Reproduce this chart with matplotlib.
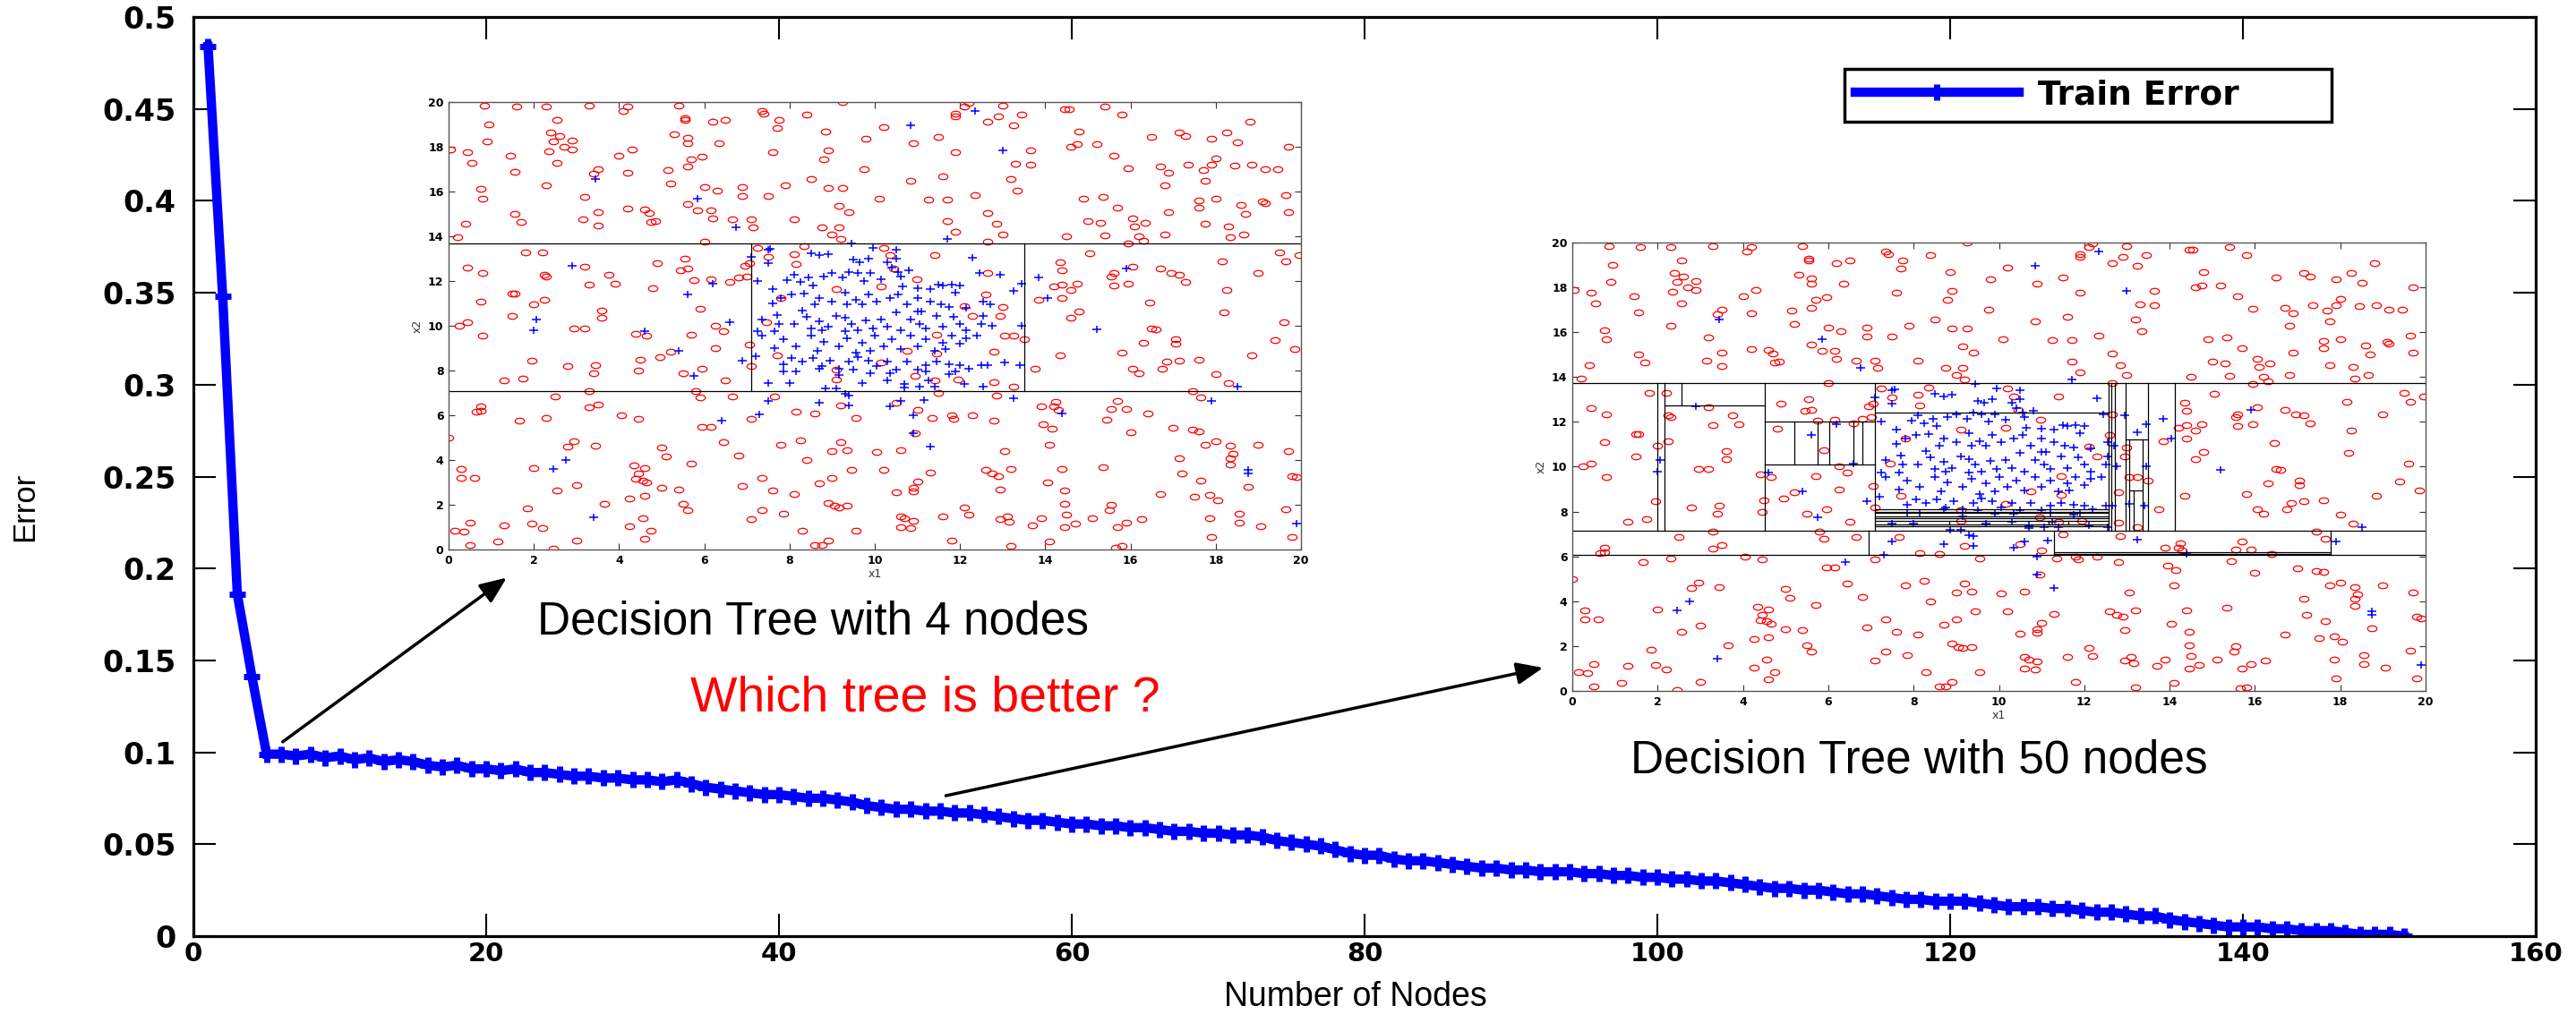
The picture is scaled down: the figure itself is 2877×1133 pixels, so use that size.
import numpy as np
import matplotlib
matplotlib.use('Agg')
import matplotlib.pyplot as plt
from matplotlib.path import Path
from matplotlib.transforms import Affine2D

# ---- datos de la curva principal ----
nodes = list(range(1, 152))
train_error = [
    0.484, 0.348, 0.186, 0.141, 0.099,
    0.099, 0.098, 0.099, 0.097, 0.098,
    0.096, 0.097, 0.095, 0.096, 0.095,
    0.093, 0.092, 0.093, 0.091, 0.091,
    0.090, 0.091, 0.089, 0.089, 0.088,
    0.087, 0.087, 0.086, 0.086, 0.085,
    0.085, 0.084, 0.085, 0.083, 0.081,
    0.080, 0.079, 0.078, 0.077, 0.077,
    0.076, 0.075, 0.075, 0.074, 0.073,
    0.071, 0.070, 0.069, 0.069, 0.068,
    0.068, 0.067, 0.067, 0.066, 0.065,
    0.064, 0.063, 0.063, 0.062, 0.061,
    0.061, 0.060, 0.060, 0.059, 0.059,
    0.058, 0.057, 0.057, 0.056, 0.056,
    0.055, 0.055, 0.054, 0.052, 0.051,
    0.050, 0.049, 0.047, 0.045, 0.044,
    0.044, 0.042, 0.041, 0.041, 0.040,
    0.039, 0.038, 0.037, 0.037, 0.036,
    0.036, 0.035, 0.035, 0.035, 0.034,
    0.034, 0.033, 0.033, 0.032, 0.032,
    0.031, 0.031, 0.030, 0.030, 0.029,
    0.028, 0.027, 0.026, 0.026, 0.025,
    0.025, 0.024, 0.023, 0.023, 0.022,
    0.021, 0.020, 0.020, 0.019, 0.019,
    0.019, 0.018, 0.017, 0.016, 0.016,
    0.016, 0.015, 0.015, 0.014, 0.013,
    0.013, 0.012, 0.011, 0.011, 0.009,
    0.008, 0.007, 0.006, 0.005, 0.005,
    0.005, 0.004, 0.004, 0.003, 0.003,
    0.003, 0.002, 0.001, 0.001, 0.001,
    0.000,
]
y_ticks = [0, 0.05, 0.1, 0.15, 0.2, 0.25, 0.3, 0.35, 0.4, 0.45, 0.5]
y_tick_labels = ['0', '0.05', '0.1', '0.15', '0.2', '0.25', '0.3', '0.35', '0.4', '0.45', '0.5']
x_ticks = [0, 20, 40, 60, 80, 100, 120, 140, 160]

# ---- datos de los graficos pequenos (x1, x2) ----
red_pts = [
    (0.85, 19.85), (1.6, 19.8), (2.3, 19.8), (3.3, 19.85), (4.2, 19.8), (4.1, 19.6), (5.4, 19.85),
    (0.95, 19.0), (2.55, 19.2), (0.9, 18.25), (0.05, 17.9), (0.45, 17.75), (0.55, 17.3), (1.45, 17.6),
    (1.55, 16.9), (2.4, 18.65), (2.6, 18.5), (2.45, 18.25), (2.9, 18.3), (2.7, 18.0), (2.9, 17.9),
    (2.35, 17.8), (2.55, 17.3), (2.3, 16.3), (0.75, 16.1), (0.8, 15.7), (1.55, 15.0), (1.7, 14.65),
    (0.4, 14.55), (0.2, 13.95), (3.2, 15.75), (3.15, 14.75), (3.5, 15.1), (3.5, 14.5), (3.4, 16.8),
    (3.5, 17.0), (4.0, 17.6), (4.3, 17.9), (4.2, 16.85), (4.2, 15.25), (4.6, 15.2), (4.7, 15.05),
    (4.75, 14.65), (4.85, 14.7), (5.15, 16.95), (5.2, 16.35), (5.3, 18.55), (5.55, 19.3), (5.55, 19.2),
    (5.6, 18.4), (5.6, 18.15), (5.7, 17.45), (5.95, 17.55), (5.6, 17.1), (5.6, 15.45), (5.85, 15.15),
    (6.0, 16.2), (6.3, 16.05), (6.15, 15.15), (6.2, 14.8), (6.2, 19.1), (6.5, 19.2), (6.35, 18.15),
    (6.65, 14.75), (6.9, 16.2), (6.9, 15.8), (7.1, 14.75), (7.15, 14.4), (7.35, 19.6), (7.4, 19.5),
    (7.75, 19.2), (7.7, 18.85), (7.6, 17.75), (7.5, 15.8), (8.1, 14.75), (7.9, 16.3), (8.4, 19.45),
    (8.5, 16.55), (9.25, 20.0), (8.85, 18.7), (8.9, 17.85), (8.8, 17.45), (8.9, 16.15), (9.25, 16.15),
    (9.15, 15.35), (9.4, 15.1), (8.75, 14.4), (9.15, 14.4), (9.0, 14.1), (9.2, 13.9), (9.8, 18.35),
    (9.75, 17.0), (10.1, 15.7), (10.2, 18.9), (10.85, 16.5), (10.9, 18.15), (11.25, 15.65), (11.5, 18.45),
    (11.6, 16.7), (11.7, 15.65), (11.7, 14.7), (11.9, 14.2), (11.9, 19.5), (11.9, 19.35), (12.1, 19.8),
    (12.2, 19.95), (11.9, 17.75), (12.35, 15.85), (12.65, 19.1), (12.9, 19.35), (13.0, 19.85), (13.25, 18.95),
    (13.45, 19.45), (12.65, 15.05), (12.85, 14.55), (13.0, 14.1), (12.65, 13.75), (13.2, 16.55), (13.35, 16.05),
    (13.3, 17.25), (13.65, 17.2), (13.65, 17.85), (14.45, 19.7), (14.55, 19.7), (14.8, 18.7), (14.6, 18.0),
    (14.75, 18.1), (15.2, 18.1), (15.4, 19.8), (15.8, 19.45), (15.6, 17.6), (15.95, 17.05), (14.9, 15.7),
    (15.35, 15.75), (15.7, 15.3), (15.0, 14.7), (15.3, 14.6), (15.4, 14.05), (14.5, 14.0), (16.05, 14.8),
    (16.1, 14.45), (16.35, 14.6), (16.2, 14.0), (16.3, 13.8), (15.95, 13.7), (16.5, 18.45), (16.7, 17.1),
    (16.9, 16.85), (16.8, 16.3), (16.9, 15.1), (16.8, 14.1), (17.15, 18.65), (17.3, 18.5), (17.35, 17.2),
    (17.7, 16.95), (17.75, 16.5), (17.6, 15.6), (17.6, 15.3), (17.75, 14.55), (17.9, 18.35), (18.0, 17.5),
    (17.9, 17.2), (18.25, 18.65), (18.5, 18.2), (18.45, 17.15), (18.0, 15.7), (18.3, 14.45), (18.35, 13.95),
    (18.65, 14.1), (18.6, 15.4), (18.7, 15.0), (18.8, 19.1), (18.85, 17.2), (19.15, 17.0), (19.45, 17.0),
    (19.1, 15.55), (19.15, 15.5), (19.7, 18.0), (19.65, 15.85), (19.7, 15.1),
    # franja central
    (0.45, 12.6), (0.8, 12.35), (0.75, 11.1), (0.25, 10.0), (0.45, 10.15), (0.8, 9.55), (1.5, 11.45),
    (1.55, 11.45), (1.5, 10.45), (1.8, 13.3), (2.2, 13.3), (2.25, 12.3), (2.3, 12.2), (2.0, 10.95),
    (2.25, 11.15), (1.95, 8.45), (1.3, 7.55), (1.75, 7.65), (2.8, 8.2), (3.2, 12.65), (3.3, 11.85),
    (2.95, 9.9), (3.2, 9.9), (3.6, 10.7), (3.6, 10.35), (3.75, 12.3), (3.9, 11.9), (3.45, 8.25),
    (3.4, 7.9), (4.4, 9.65), (4.65, 9.55), (4.5, 8.5), (4.45, 8.0), (4.8, 11.7), (4.9, 12.8),
    (4.95, 8.6), (5.2, 8.85), (5.5, 7.9), (5.55, 13.0), (5.6, 12.55), (5.45, 12.5), (5.75, 12.05),
    (5.9, 10.75), (5.7, 9.6), (5.95, 8.1), (6.0, 13.75), (6.15, 12.1), (6.25, 10.0), (6.45, 9.75),
    (6.25, 9.0), (6.6, 11.95), (6.5, 7.55), (6.8, 12.15), (6.95, 12.7), (7.05, 12.8), (7.0, 12.2),
    (7.05, 9.15), (7.1, 8.2),
    (7.25, 13.5), (7.5, 13.1), (8.1, 13.2), (8.15, 12.75), (8.35, 13.55), (10.2, 13.5), (10.35, 13.15),
    (10.45, 12.55), (10.15, 11.75), (9.1, 11.65), (7.8, 11.25), (7.45, 10.15), (7.7, 8.7), (9.1, 8.05),
    (9.1, 7.6), (10.15, 8.35), (10.75, 8.9), (10.95, 7.75), (11.4, 7.55), (11.45, 8.75), (11.45, 9.6),
    (12.1, 10.9), (12.3, 10.45), (12.6, 11.4), (12.65, 12.35), (13.0, 10.85), (12.95, 10.45), (13.05, 9.55),
    (13.25, 9.55), (12.8, 8.85), (12.8, 7.5), (13.25, 7.3), (13.5, 9.4), (11.4, 13.15), (11.95, 7.6),
    (10.98, 12.1),
    (13.75, 8.1), (13.85, 11.15), (14.2, 11.75), (14.35, 12.85), (14.4, 12.5), (14.4, 11.85), (14.4, 11.25),
    (14.75, 11.9), (14.6, 11.6), (14.6, 10.35), (14.8, 10.65), (14.35, 8.7), (15.05, 13.25), (15.55, 12.2),
    (15.6, 12.35), (15.6, 11.8), (15.95, 11.9), (16.05, 12.65), (15.8, 8.8), (16.05, 8.1), (16.2, 7.9),
    (16.3, 9.25), (16.45, 11.05), (16.5, 9.9), (16.6, 9.85), (16.7, 12.55), (16.95, 12.35), (17.15, 12.3),
    (17.3, 11.95), (17.05, 9.4), (17.05, 9.2), (16.85, 8.4), (17.15, 8.45), (16.75, 8.1), (17.6, 8.5),
    (17.45, 7.1), (17.65, 6.8), (18.15, 12.9), (18.25, 11.6), (18.2, 10.6), (18.0, 7.85), (18.3, 7.45),
    (19.0, 12.35), (19.5, 13.3), (19.65, 12.9), (19.95, 13.15), (19.6, 10.15), (19.4, 9.35), (19.85, 8.95),
    (18.85, 8.7),
    # franja inferior
    (0.0, 5.0), (0.3, 3.6), (0.3, 3.2), (0.6, 3.2), (0.75, 6.4), (0.65, 6.15), (0.75, 6.2),
    (0.15, 0.85), (0.35, 0.8), (0.5, 1.2), (0.5, 0.2), (1.15, 0.35), (1.3, 1.1), (1.65, 5.75),
    (1.85, 1.85), (1.95, 1.15), (2.2, 0.95), (2.0, 3.65), (2.3, 5.9), (2.5, 6.85), (2.55, 2.65),
    (2.45, 0.05), (2.8, 4.6), (2.95, 4.85), (3.0, 2.9), (3.0, 0.4), (3.3, 6.35), (3.3, 7.1),
    (3.5, 6.5), (3.45, 4.65), (3.65, 2.05), (4.05, 6.0), (4.45, 5.85), (4.25, 2.3), (4.25, 1.05),
    (4.35, 3.75), (4.4, 3.15), (4.45, 3.4), (4.55, 3.1), (4.6, 3.65), (4.65, 3.0), (4.6, 2.4),
    (4.55, 1.4), (4.6, 0.5), (4.75, 0.85), (5.0, 4.55), (5.1, 4.15), (5.0, 2.75), (5.4, 2.7),
    (5.5, 2.05), (5.6, 1.75), (5.7, 3.85), (5.95, 5.5), (6.15, 5.5), (5.8, 7.1), (5.9, 6.8),
    (6.45, 4.8), (6.65, 6.85), (6.8, 4.2), (6.9, 2.85), (7.1, 5.85), (7.1, 1.35), (7.35, 3.2),
    (7.35, 1.75), (7.6, 2.65), (7.65, 6.85), (7.8, 4.7), (7.85, 1.6), (8.1, 2.5), (8.15, 6.15),
    (8.3, 0.85), (8.25, 4.9), (8.4, 4.0), (8.6, 6.1), (8.6, 0.2), (8.7, 2.95), (8.75, 0.2),
    (8.9, 0.4), (8.9, 2.1), (9.0, 3.2), (9.0, 4.4), (9.05, 1.95), (9.15, 1.9), (9.2, 4.8),
    (9.2, 6.45), (9.35, 4.45), (9.45, 3.55), (9.35, 1.95), (9.55, 5.9), (9.55, 0.85), (10.05, 4.35),
    (10.2, 3.55), (10.5, 6.55), (10.6, 4.45), (10.5, 2.55), (10.6, 1.5), (10.7, 1.4), (10.6, 1.0),
    (10.85, 0.95), (10.9, 1.3), (10.9, 2.75), (10.9, 2.6), (11.0, 6.25), (11.0, 3.05), (10.95, 5.2),
    (11.35, 5.9), (11.3, 3.45), (11.5, 7.0), (11.6, 1.5), (11.8, 6.0), (11.85, 5.85), (11.8, 0.4),
    (12.1, 1.9), (12.2, 1.55), (12.3, 6.0), (12.6, 3.55), (12.75, 3.4), (12.9, 3.3), (12.8, 5.75),
    (12.85, 6.9), (12.95, 2.7), (13.05, 4.4), (12.95, 1.35), (13.1, 1.5), (13.15, 1.25), (13.2, 3.6),
    (13.2, 0.15), (13.7, 1.1), (13.9, 1.4), (13.95, 5.6), (13.9, 6.4), (14.05, 3.0), (14.1, 4.7),
    (14.15, 5.4), (14.1, 0.35), (14.25, 6.6), (14.2, 6.4), (14.3, 6.25), (14.4, 3.6), (14.45, 2.65),
    (14.45, 2.05), (14.5, 1.55), (14.45, 1.0), (14.7, 1.15), (15.1, 1.4), (15.35, 3.7), (15.45, 5.8),
    (15.55, 6.3), (15.7, 6.65), (15.9, 6.3), (16.0, 5.25), (15.55, 2.0), (15.5, 1.75), (15.7, 1.0),
    (15.9, 1.2), (15.65, 0.1), (15.8, 0.15), (16.25, 1.35), (16.4, 6.1), (16.7, 2.5), (17.0, 5.45),
    (17.15, 4.1), (17.2, 3.4), (17.45, 5.35), (17.6, 5.3), (17.5, 2.35), (17.65, 3.1), (17.75, 4.7),
    (18.0, 4.85), (17.85, 2.45), (17.85, 1.4), (18.05, 2.2), (17.9, 0.55), (18.35, 4.65), (18.4, 4.3),
    (18.35, 4.1), (18.35, 3.8), (18.55, 1.6), (18.55, 1.2), (18.75, 2.8), (19.0, 4.7), (19.05, 1.05),
    (19.65, 1.8), (19.7, 4.4), (19.8, 3.3), (19.9, 3.25), (19.8, 0.55),
]

blue_pts = [
    (3.45, 16.55), (5.85, 15.7), (6.75, 14.4), (10.85, 18.95), (12.35, 19.6), (13.0, 17.85), (11.7, 13.9),
    (2.9, 12.7), (2.05, 10.3), (2.0, 9.8), (4.6, 9.75), (5.4, 8.9), (5.6, 11.4), (6.2, 11.9),
    (6.6, 10.15), (5.75, 7.75), (6.9, 8.45), (6.4, 5.75), (7.3, 6.05), (7.5, 6.65), (8.7, 6.55),
    (9.4, 6.45), (10.35, 6.4), (10.6, 6.65), (11.15, 6.7), (10.9, 6.0), (10.9, 5.2), (11.3, 4.6),
    (13.25, 6.75), (14.4, 6.1), (17.9, 6.65), (18.5, 7.3), (15.2, 9.85), (13.85, 12.15), (14.05, 11.25),
    (15.9, 12.55), (13.25, 11.55), (13.45, 11.9), (13.45, 10.0), (13.4, 8.25), (13.05, 8.35), (12.95, 12.3),
    (12.45, 12.35), (12.3, 13.05), (2.45, 3.6), (2.75, 4.0), (3.4, 1.45), (18.75, 3.55), (18.75, 3.4),
    (19.9, 1.15), (12.1, 7.4), (12.55, 7.3), (11.75, 7.85),
    # nube central
    (7.55, 13.45), (7.5, 13.4), (8.5, 13.25), (8.7, 13.15), (8.9, 13.2), (9.45, 13.7), (9.95, 13.5),
    (10.5, 13.4), (10.5, 13.0), (7.1, 13.1), (9.5, 12.95), (9.65, 12.85), (9.85, 13.0), (10.3, 12.85),
    (10.4, 12.6), (10.8, 12.5), (7.5, 12.8),
    (7.25, 12.0), (7.6, 11.65), (7.95, 12.05), (8.1, 12.3), (8.25, 11.95), (8.45, 12.15), (8.55, 11.8),
    (8.8, 12.2), (9.0, 12.35), (9.25, 12.15), (9.4, 12.4), (9.6, 12.35), (9.75, 12.0), (9.9, 12.35),
    (10.15, 12.1), (10.55, 12.4), (10.6, 12.2), (10.65, 11.75), (11.0, 11.7), (11.3, 11.65), (11.5, 11.85),
    (11.6, 11.8), (11.8, 11.85), (12.0, 11.8),
    (7.6, 11.0), (7.8, 11.25), (8.05, 11.4), (8.35, 11.45), (8.3, 10.7), (8.6, 10.95), (8.7, 11.25),
    (9.0, 11.1), (9.3, 11.5), (9.35, 10.95), (9.55, 11.15), (9.7, 10.95), (9.85, 11.4), (10.05, 11.1),
    (10.35, 11.25), (10.55, 11.4), (10.75, 10.95), (11.0, 11.25), (11.1, 10.65), (11.3, 11.1), (11.55, 10.95),
    (11.75, 10.85), (11.9, 11.5), (12.15, 10.8), (12.55, 11.1), (12.7, 10.95), (11.0, 10.65),
    (7.7, 10.5), (7.75, 10.1), (7.35, 10.3), (8.1, 10.1), (8.4, 10.4), (8.7, 10.2), (8.9, 9.95),
    (9.1, 10.45), (9.3, 10.35), (9.45, 10.1), (9.6, 9.8), (9.8, 10.25), (9.95, 9.9), (10.15, 10.3),
    (10.3, 9.95), (10.5, 10.6), (10.6, 9.8), (10.85, 10.3), (11.05, 10.1), (11.2, 9.9), (11.45, 10.45),
    (11.6, 9.95), (11.85, 10.4), (12.0, 10.1), (12.15, 9.8), (12.5, 10.1), (12.75, 10.0), (12.55, 10.45),
    (7.25, 9.75), (7.65, 9.75), (8.5, 9.9), (8.75, 9.8), (9.3, 9.75),
    (7.35, 9.55), (7.85, 9.4), (8.15, 9.1), (8.5, 9.55), (8.65, 8.9), (8.8, 9.3), (9.15, 9.1),
    (9.35, 9.45), (9.55, 8.8), (9.7, 9.25), (9.9, 8.9), (10.0, 9.55), (10.2, 9.1), (10.4, 9.4),
    (10.6, 8.95), (10.85, 9.55), (11.0, 9.1), (11.2, 9.4), (11.4, 8.9), (11.6, 9.25), (11.8, 9.55),
    (12.0, 9.2), (12.15, 9.45), (12.4, 9.55), (11.65, 8.95), (7.2, 8.65), (7.65, 9.0),
    (7.85, 8.3), (8.05, 8.55), (8.3, 8.4), (8.55, 8.55), (8.75, 8.2), (8.95, 8.45), (9.15, 8.1),
    (9.4, 8.4), (9.6, 8.6), (9.85, 8.45), (10.05, 8.2), (10.3, 8.4), (10.5, 8.05), (10.75, 8.4),
    (11.0, 8.05), (11.2, 8.25), (11.45, 8.4), (11.75, 8.3), (11.9, 7.95), (12.2, 8.1), (12.5, 8.25),
    (7.85, 7.95), (8.15, 7.95), (8.7, 8.1), (9.15, 7.8), (9.5, 8.05), (9.9, 7.9), (10.35, 7.9),
    (11.2, 7.95), (12.0, 8.25), (12.65, 8.25),
    (7.5, 7.45), (8.0, 7.45), (8.85, 7.2), (9.1, 7.2), (9.3, 6.95), (9.4, 6.9), (9.7, 7.45),
    (10.3, 7.55), (10.7, 7.25), (11.05, 7.3), (11.25, 7.55), (10.7, 7.4), (11.4, 7.3),
]

# cortes del arbol: (x0, x1, y0, y1)
splits_4 = [
    (0, 20, 13.7, 13.7), (0, 20, 7.1, 7.1),
    (7.1, 7.1, 7.1, 13.7), (13.5, 13.5, 7.1, 13.7),
]
splits_50 = [
    (0, 20, 13.72, 13.72), (0, 20, 7.13, 7.13), (0, 20, 6.06, 6.06),
    (1.99, 1.99, 7.13, 13.72), (2.155, 2.155, 7.13, 13.72),
    (2.155, 4.51, 12.72, 12.72), (2.55, 2.55, 12.72, 13.72),
    (4.51, 4.51, 7.13, 13.72),
    (4.51, 7.1, 12.03, 12.03), (4.51, 7.1, 10.1, 10.1),
    (5.21, 5.21, 10.1, 12.03), (5.74, 5.74, 10.1, 12.03), (6.03, 6.03, 10.1, 12.03),
    (6.58, 6.58, 10.1, 12.03), (6.81, 6.81, 10.1, 12.03),
    (7.1, 7.1, 7.13, 13.72), (7.1, 12.57, 12.43, 12.43),
    (7.1, 12.57, 8.09, 8.09), (7.1, 12.57, 8.0, 8.0), (7.1, 12.57, 7.93, 7.93),
    (7.1, 12.57, 7.8, 7.8), (7.1, 12.57, 7.7, 7.7), (7.1, 12.57, 7.57, 7.57),
    (7.1, 12.57, 7.44, 7.44), (7.1, 12.57, 7.33, 7.33),
    (8.84, 8.84, 7.44, 7.57), (11.17, 11.17, 7.44, 7.57), (11.63, 11.63, 7.44, 7.57),
    (12.57, 12.57, 7.13, 13.72), (12.64, 12.64, 7.13, 13.72), (12.71, 12.71, 7.13, 13.72),
    (12.97, 12.97, 7.13, 13.72), (12.97, 13.49, 11.23, 11.23),
    (13.05, 13.05, 7.13, 11.23), (13.36, 13.36, 7.13, 11.23), (13.05, 13.36, 8.95, 8.95),
    (13.16, 13.16, 7.13, 8.95),
    (13.49, 13.49, 7.13, 13.72), (14.12, 14.12, 7.13, 13.72),
    (6.94, 6.94, 6.06, 7.13), (11.3, 11.3, 6.06, 7.13),
    (11.3, 17.77, 6.2, 6.2), (11.3, 17.77, 6.12, 6.12), (17.77, 17.77, 6.06, 7.13),
]

# ---- figura ----
W, H = 2877, 1133
fig = plt.figure(figsize=(W / 100, H / 100), dpi=100)
fig.patch.set_facecolor('white')

ax = fig.add_axes([216 / W, 1 - 1046 / H, 2616 / W, 1027 / H])
ax.plot(nodes, train_error, color='#0000ff', lw=7.5, marker='+', ms=13, mew=5,
        label='Train Error', solid_joinstyle='miter')
ax.set_xlim(0, 160)
ax.set_ylim(0, 0.5)
ax.set_xticks(x_ticks)
ax.set_yticks(y_ticks)
ax.set_yticklabels(y_tick_labels)
ax.tick_params(direction='in', top=True, right=True, length=18, width=1.5,
               labelsize=24)
ax.tick_params(axis='y', pad=14)
ax.tick_params(axis='x', pad=4, labelsize=21)
for lbl in ax.get_xticklabels() + ax.get_yticklabels():
    lbl.set_fontweight('bold')
for sp in ax.spines.values():
    sp.set_linewidth(2.3)

# etiquetas de los ejes
fig.text(1514 / W, 1 / H, 'Number of Nodes', fontsize=27, family='Liberation Sans',
         ha='center', va='bottom')
fig.text(28 / W, 1 - 566 / H, 'Error', rotation=90, fontsize=25,
         family='Liberation Sans', ha='center', va='center')

# leyenda con el ancho del recuadro original
leg = ax.legend(loc='upper left', bbox_to_anchor=(0.705, 0.884, 0.208, 0.0595),
                mode='expand', borderaxespad=0, fancybox=False,
                edgecolor='black', framealpha=1, borderpad=0.3, handlelength=4.9,
                handletextpad=0.55, prop=dict(weight='bold', size=27))
leg.get_frame().set_linewidth(2.5)

# textos y flechas
ax.text(42.3, 0.171, 'Decision Tree with 4 nodes', fontsize=37, family='Liberation Sans',
        ha='center', va='center')
ax.text(117.9, 0.0954, 'Decision Tree with 50 nodes', fontsize=37, family='Liberation Sans',
        ha='center', va='center')
ax.text(50.0, 0.1295, 'Which tree is better ?', fontsize=40, family='Liberation Sans',
        color='#ff0000', ha='center', va='center')
arrow_style = dict(arrowstyle='-|>,head_length=0.6,head_width=0.25', lw=2.5,
                   color='black', mutation_scale=30, shrinkA=0, shrinkB=0)
ax.annotate('', xy=(21.4, 0.195), xytext=(6.1, 0.1057), arrowprops=arrow_style,
            annotation_clip=False)
ax.annotate('', xy=(92.2, 0.146), xytext=(51.4, 0.0764), arrowprops=arrow_style,
            annotation_clip=False)

# marcadores elipticos (la imagen original esta estirada)
ell = Path.unit_circle().transformed(Affine2D().scale(1.0, 0.62))
plus = Path([(-1, 0), (1, 0), (0, -0.85), (0, 0.85)],
            [Path.MOVETO, Path.LINETO, Path.MOVETO, Path.LINETO])

red = np.array(red_pts)
blue = np.array(blue_pts)


def draw_inset(rect, splits):
    ins = fig.add_axes(rect)
    ins.set_facecolor('white')
    ins.plot(red[:, 0], red[:, 1], ls='none', marker=ell, ms=7.5, mfc='none',
             mec='#ff0000', mew=0.9)
    ins.plot(blue[:, 0], blue[:, 1], ls='none', marker=plus, ms=7.5,
             mec='#0000ff', mew=1.1)
    for x0, x1, y0, y1 in splits:
        ins.plot([x0, x1], [y0, y1], color='black', lw=0.9)
    ins.set_xlim(0, 20)
    ins.set_ylim(0, 20)
    ins.set_xticks(range(0, 21, 2))
    ins.set_yticks(range(0, 21, 2))
    ins.tick_params(direction='in', top=True, right=True, length=5, width=0.8,
                    labelsize=9, pad=4, color='#333333')
    for lbl in ins.get_xticklabels() + ins.get_yticklabels():
        lbl.set_fontweight('bold')
    for sp in ins.spines.values():
        sp.set_linewidth(1.0)
        sp.set_color('#555555')
    ins.set_xlabel('x1', fontsize=9, color='#333333', labelpad=2)
    ins.set_ylabel('x2', fontsize=9, color='#333333', labelpad=4)
    return ins


draw_inset([501 / W, 1 - 614 / H, 952 / W, 500 / H], splits_4)
draw_inset([1756 / W, 1 - 772 / H, 953 / W, 501 / H], splits_50)

fig.savefig('out.png', dpi=100)
